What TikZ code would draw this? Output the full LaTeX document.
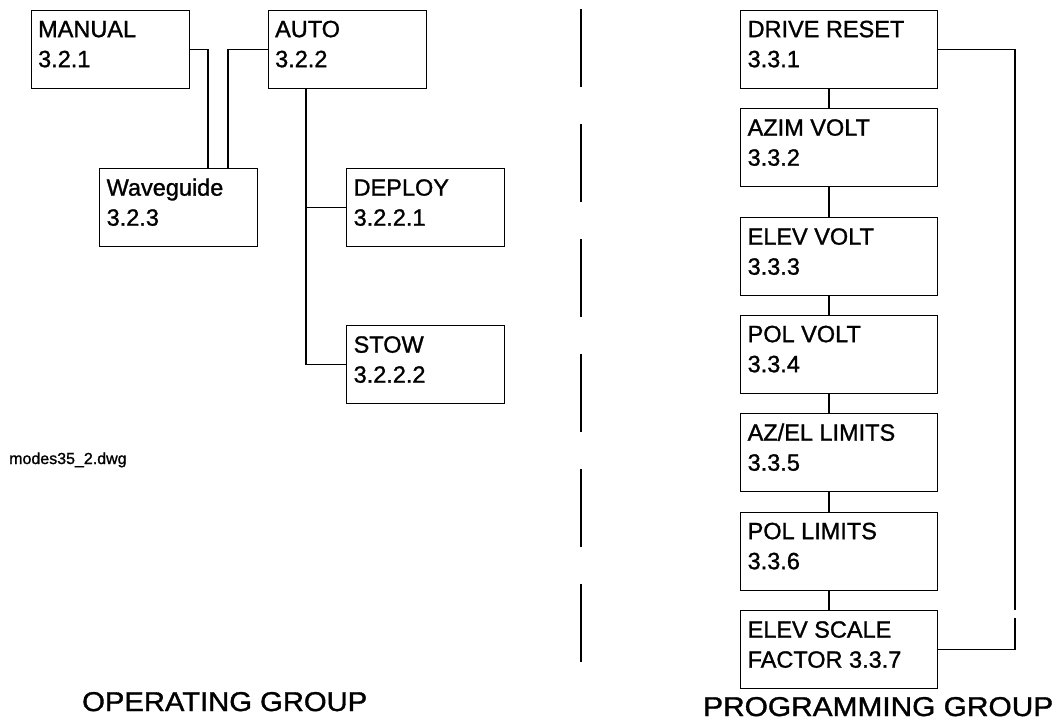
\documentclass[tikz,border=0pt]{standalone}
\usepackage{fontspec}
\usepackage{graphicx}
\setmainfont{Liberation Sans}[FakeBold=1.2]
\newcommand{\bt}[3]{\parbox[t][78pt][t]{#1}{\raggedright\leftskip=7pt\fontsize{23.5pt}{30pt}\selectfont\rule{0pt}{27pt}#2\\#3}}
\tikzset{
  box/.style={draw, line width=1.3pt, inner sep=0pt, anchor=north west},
  conn/.style={line width=1.3pt},
  sep/.style={line width=1.3pt, dash pattern=on 78pt off 37pt}
}
\begin{document}
\begin{tikzpicture}[x=1pt,y=-1pt]
\useasboundingbox (0,0) rectangle (1056,721);
% operating group
\node[box] (manual) at (30.5,9.5) {\bt{158pt}{MANUAL}{3.2.1}};
\node[box] (auto) at (267.5,9.5) {\bt{158pt}{AUTO}{3.2.2}};
\node[box] (wave) at (99,168) {\bt{158pt}{Waveguide}{3.2.3}};
\node[box] (deploy) at (346,168) {\bt{158pt}{DEPLOY}{3.2.2.1}};
\node[box] (stow) at (346,325) {\bt{158pt}{STOW}{3.2.2.2}};
\draw[conn] (manual.east) -| ([xshift=109pt]wave.north west);
\draw[conn] (auto.west) -| ([xshift=129pt]wave.north west);
\coordinate (trunk) at ([xshift=38.5pt]auto.south west);
\draw[conn] (trunk) |- (stow.west);
\draw[conn] (trunk |- deploy.west) -- (deploy.west);
% separator
\coordinate (septop) at (581,9);
\coordinate (sepbot) at (581,662);
\draw[sep] (septop) -- (sepbot);
% programming group
\node[box] (drive) at (740,9.5) {\bt{197pt}{DRIVE RESET}{3.3.1}};
\node[box] (azim) at (740,108) {\bt{197pt}{AZIM VOLT}{3.3.2}};
\node[box] (elevv) at (740,217) {\bt{197pt}{ELEV VOLT}{3.3.3}};
\node[box] (polv) at (740,314.5) {\bt{197pt}{POL VOLT}{3.3.4}};
\node[box] (azel) at (740,413) {\bt{197pt}{AZ/EL LIMITS}{3.3.5}};
\node[box] (poll) at (740,511.5) {\bt{197pt}{POL LIMITS}{3.3.6}};
\node[box] (elevs) at (740,610) {\bt{197pt}{ELEV SCALE}{FACTOR 3.3.7}};
\foreach \a/\b in {drive/azim, azim/elevv, elevv/polv, polv/azel, azel/poll, poll/elevs}
  \draw[conn] ([xshift=89pt]\a.south west) -- ([xshift=89pt]\b.north west);
\coordinate (gapa) at (1015,610);
\coordinate (gapb) at (1015,618);
\draw[conn] (drive.east) -| (gapa);
\draw[conn] (gapb) |- (elevs.east);
% labels
\node[anchor=base west, inner sep=0pt, font=\fontsize{16pt}{18pt}\selectfont] (fname) at (9,464) {modes35\_2.dwg};
\node[anchor=base west, inner sep=0pt] (opg) at (82,711) {\resizebox{285pt}{19pt}{OPERATING GROUP}};
\node[anchor=base west, inner sep=0pt] (prg) at (703,716) {\resizebox{350pt}{19pt}{PROGRAMMING GROUP}};
\end{tikzpicture}
\end{document}
